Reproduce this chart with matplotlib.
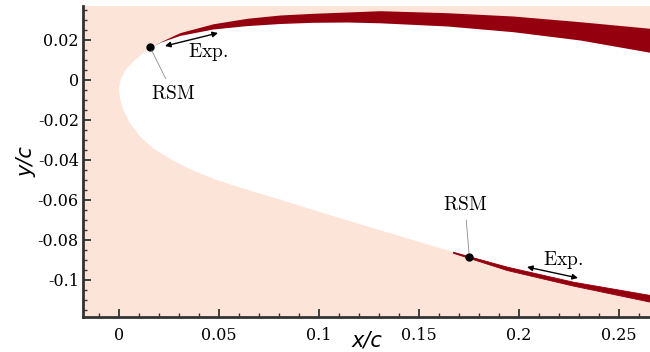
import numpy as np
import matplotlib
matplotlib.use('Agg')
import matplotlib.pyplot as plt
from matplotlib.ticker import MultipleLocator, FuncFormatter

plt.rcParams['mathtext.fontset'] = 'cm'
plt.rcParams['axes.unicode_minus'] = False

# airfoil upper surface (from the RSM point to the right edge)
upper_x = [0.0155, 0.0205, 0.024, 0.0305, 0.047, 0.064, 0.0805, 0.097, 0.114, 0.1305, 0.164, 0.197, 0.2305, 0.2655, 0.27]
upper_y = [0.0165, 0.0188, 0.0201, 0.0223, 0.0255, 0.0272, 0.02825, 0.02885, 0.029, 0.0286, 0.027, 0.02415, 0.02, 0.01385, 0.013]
# edge of the separated region above the upper surface
sep_top_y = [0.0165, 0.0190, 0.0207, 0.0237, 0.0281, 0.03085, 0.0325, 0.03335, 0.034, 0.03465, 0.03365, 0.032, 0.02915, 0.02585, 0.0253]

# leading edge, from the upper RSM point round to the lower surface
nose_x = [0.013, 0.008, 0.00385, 0.001, 0.0, 0.0005, 0.00215, 0.0055, 0.0105]
nose_y = [0.01415, 0.010, 0.00585, 0.00085, -0.00415, -0.00915, -0.015, -0.02165, -0.0282]

# lower surface
lower_x = [0.01715, 0.02635, 0.03635, 0.048, 0.0655, 0.082, 0.0955, 0.107, 0.12385, 0.1405, 0.157, 0.167, 0.19385, 0.227, 0.2655, 0.27]
lower_y = [-0.0342, -0.0400, -0.0450, -0.0497, -0.0553, -0.0603, -0.0645, -0.0680, -0.0731, -0.0781, -0.0830, -0.0859, -0.0933, -0.10085, -0.1075, -0.1083]
# separated region below the lower surface
sep_lo_x = [0.167, 0.19385, 0.227, 0.2655, 0.27]
sep_lo_top = [-0.0859, -0.0933, -0.10085, -0.1075, -0.1083]
sep_lo_bot = [-0.0864, -0.0950, -0.1028, -0.11085, -0.1117]

# RSM separation points and experimental ranges
rsm_pts = [(0.0155, 0.0165), (0.17515, -0.0884)]
rsm_txt = [(0.027, -0.0067), (0.173, -0.0625)]
exp_arrows = [((0.023, 0.017), (0.0495, 0.0235)), ((0.204, -0.0935), (0.2295, -0.099))]
exp_txt = [(0.0445, 0.0140), (0.2218, -0.0898)]

x_ticks = [0, 0.05, 0.1, 0.15, 0.2, 0.25]
y_ticks = [0.02, 0, -0.02, -0.04, -0.06, -0.08, -0.1]

pink = '#fde4d8'
dark_red = '#95000f'

fig = plt.figure(figsize=(6.5, 3.52), dpi=100)
ax = fig.add_axes([83/650, 35/352, 567/650, 311/352])
ax.set_facecolor(pink)

# white airfoil body
body_x = upper_x[::-1] + nose_x + lower_x
body_y = upper_y[::-1] + nose_y + lower_y
ax.fill(body_x + [0.3, 0.3], body_y + [-0.2, 0.1], color='white', lw=0, zorder=1)

# separated regions
ax.fill_between(upper_x, upper_y, sep_top_y, color=dark_red, lw=0, zorder=2)
ax.fill_between(sep_lo_x, sep_lo_bot, sep_lo_top, color=dark_red, lw=0.6, edgecolor=dark_red, zorder=2)

for (px, py), (tx, ty) in zip(rsm_pts, rsm_txt):
    ax.plot(px, py, 'o', color='black', ms=5, zorder=5)
    ax.annotate(r'$\mathrm{RSM}$', xy=(px, py), xytext=(tx, ty), ha='center', va='center',
                fontsize=14, zorder=5,
                arrowprops=dict(arrowstyle='-', color='0.55', lw=0.6, shrinkA=2, shrinkB=3))

for (a, b), (tx, ty) in zip(exp_arrows, exp_txt):
    ax.annotate('', xy=b, xytext=a, zorder=5,
                arrowprops=dict(arrowstyle='<|-|>', color='black', lw=1.0,
                                mutation_scale=8, shrinkA=0, shrinkB=0))
    ax.text(tx, ty, r'$\mathrm{Exp.}$', ha='center', va='center', fontsize=14, zorder=5)

ax.set_xlim(-0.018, 0.2655)
ax.set_ylim(-0.1185, 0.037)

ax.set_xticks(x_ticks)
ax.set_yticks(y_ticks)
fmt = FuncFormatter(lambda v, p: '0' if abs(v) < 1e-9 else f'{v:g}')
ax.xaxis.set_major_formatter(fmt)
ax.yaxis.set_major_formatter(fmt)
ax.xaxis.set_minor_locator(MultipleLocator(0.01))
ax.yaxis.set_minor_locator(MultipleLocator(0.005))
ax.tick_params(which='both', direction='in', top=False, right=False, color='#333333')
ax.tick_params(which='major', length=6, width=1.3, labelsize=11.5)
ax.tick_params(which='minor', length=3, width=1.0)
ax.tick_params(axis='x', which='major', pad=7)
ax.tick_params(axis='y', which='major', pad=3)
for lab in ax.get_xticklabels() + ax.get_yticklabels():
    lab.set_fontfamily('DejaVu Serif')

for s in ['top', 'right']:
    ax.spines[s].set_visible(False)
for s in ['left', 'bottom']:
    ax.spines[s].set_linewidth(2)
    ax.spines[s].set_color('#333333')

ax.set_xlabel('x/c', fontsize=15, fontstyle='italic', va='center')
ax.xaxis.set_label_coords(0.5, -0.074)
ax.set_ylabel('y/c', fontsize=15, fontstyle='italic', va='center')
ax.yaxis.set_label_coords(-0.099, 0.5)

fig.savefig('out.png', dpi=100)
